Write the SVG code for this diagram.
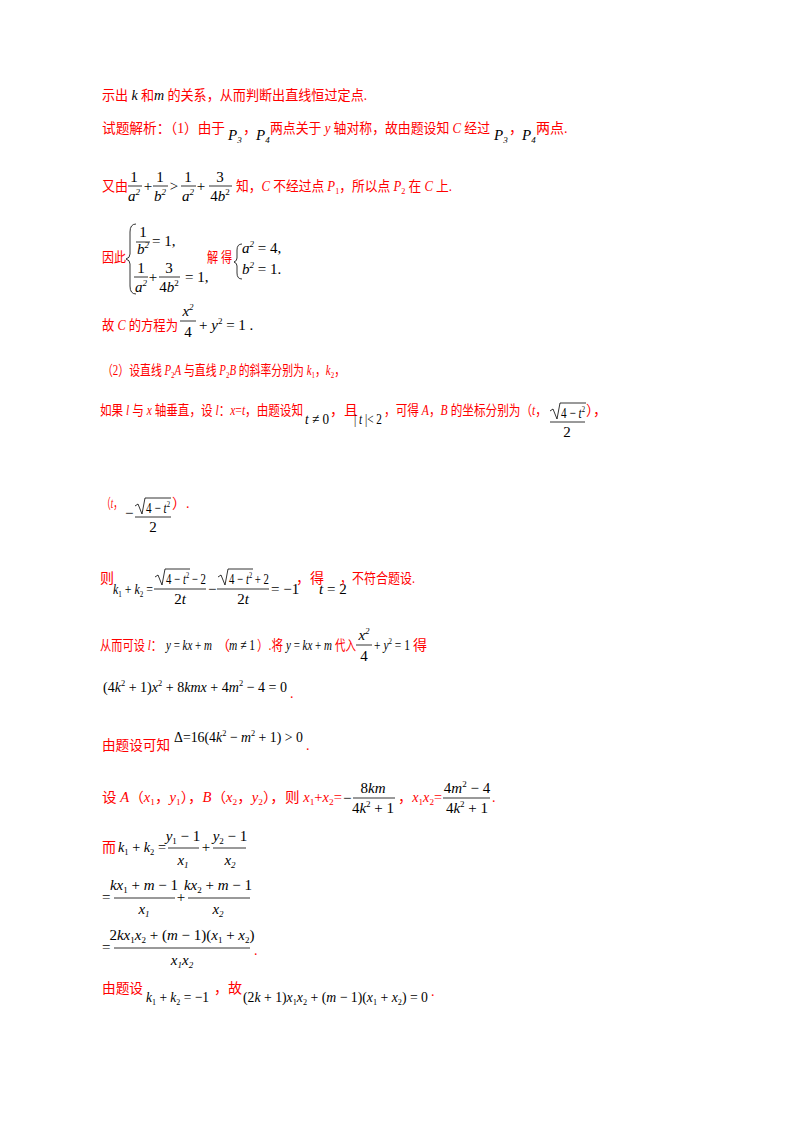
<svg xmlns="http://www.w3.org/2000/svg" width="800" height="1132" viewBox="0 0 800 1132">
<style>
.r{fill:#f00;font-family:"Liberation Serif","Noto Sans CJK SC",serif;font-size:14px}
.m{fill:#000;font-family:"Liberation Serif",serif;font-size:15px}
.i{font-style:italic}
.s{font-size:9px}
.c{text-anchor:middle}
.b{stroke:#000;stroke-width:0.8;fill:none}
</style>
<rect width="800" height="1132" fill="#fff"/>
<g id="l1">
<text class="r" x="102" y="100" textLength="265" lengthAdjust="spacingAndGlyphs">示出 <tspan class="m i" font-size="17">k</tspan> 和<tspan class="m i" font-size="17">m</tspan> 的关系，从而判断出直线恒过定点.</text>
</g>
<g id="l2">
<text class="r" x="102" y="133" textLength="123" lengthAdjust="spacingAndGlyphs">试题解析：（1）由于</text>
<text class="m i" x="228" y="140">P<tspan class="s" dy="3">3</tspan></text>
<text class="r" x="243" y="133">，</text>
<text class="m i" x="256" y="140">P<tspan class="s" dy="3">4</tspan></text>
<text class="r" x="270" y="133" textLength="220" lengthAdjust="spacingAndGlyphs">两点关于 <tspan class="i">y</tspan> 轴对称，故由题设知 <tspan class="i">C</tspan> 经过</text>
<text class="m i" x="494" y="140">P<tspan class="s" dy="3">3</tspan></text>
<text class="r" x="509" y="133">，</text>
<text class="m i" x="522" y="140">P<tspan class="s" dy="3">4</tspan></text>
<text class="r" x="536" y="133">两点.</text>
</g>
<g id="l3">
<text class="r" x="102" y="191" textLength="26" lengthAdjust="spacingAndGlyphs">又由</text>
<g class="m">
<text class="c" x="134" y="182">1</text><text class="c i" x="134" y="201">a<tspan class="s" dy="-6">2</tspan></text>
<text class="c" x="148" y="191">+</text>
<text class="c" x="160" y="182">1</text><text class="c i" x="160" y="201">b<tspan class="s" dy="-6">2</tspan></text>
<text class="c" x="174" y="191">&gt;</text>
<text class="c" x="188" y="182">1</text><text class="c i" x="188" y="201">a<tspan class="s" dy="-6">2</tspan></text>
<text class="c" x="201" y="191">+</text>
<text class="c" x="220" y="182">3</text><text class="c" x="220" y="201">4<tspan class="i">b</tspan><tspan class="s" dy="-6">2</tspan></text>
</g>
<path class="b" d="M128 186H142M153 186H168M181 186H196M209 186H232"/>
<text class="r" x="236" y="191" textLength="216" lengthAdjust="spacingAndGlyphs">知，<tspan class="i">C</tspan> 不经过点 <tspan class="i">P</tspan><tspan class="s" dy="3">1</tspan><tspan dy="-3">，所以点 </tspan><tspan class="i">P</tspan><tspan class="s" dy="3">2</tspan><tspan dy="-3"> 在 </tspan><tspan class="i">C</tspan> 上.</text>
</g>
<g id="l4">
<text class="r" x="102" y="262" textLength="24" lengthAdjust="spacingAndGlyphs">因此</text>
<path class="b" d="M136 224Q130 224 130 232V254Q130 258 126 259Q130 260 130 264V286Q130 294 136 294"/>
<g class="m">
<text class="c" x="143" y="237">1</text><text class="c i" x="143" y="254">b<tspan class="s" dy="-6">2</tspan></text>
<text x="152" y="246">= 1,</text>
<text class="c" x="141" y="273">1</text><text class="c i" x="141" y="292">a<tspan class="s" dy="-6">2</tspan></text>
<text class="c" x="153" y="282">+</text>
<text class="c" x="169" y="273">3</text><text class="c" x="169" y="292">4<tspan class="i">b</tspan><tspan class="s" dy="-6">2</tspan></text>
<text x="185" y="282">= 1,</text>
</g>
<path class="b" d="M136 242H150M134 277H148M159 277H180"/>
<text class="r" x="207" y="262" textLength="25" lengthAdjust="spacingAndGlyphs">解 得</text>
<path class="b" d="M242 244Q237 244 237 250V258Q237 261 234 262Q237 263 237 266V273Q237 279 242 279"/>
<g class="m">
<text class="i" x="242" y="253">a<tspan class="s" dy="-6">2</tspan><tspan font-style="normal" dy="6"> = 4,</tspan></text>
<text class="i" x="242" y="274">b<tspan class="s" dy="-6">2</tspan><tspan font-style="normal" dy="6"> = 1.</tspan></text>
</g>
</g>
<g id="l5">
<text class="r" x="102" y="330" textLength="76" lengthAdjust="spacingAndGlyphs">故 <tspan class="i">C</tspan> 的方程为</text>
<g class="m">
<text class="c i" x="188" y="316">x<tspan class="s" dy="-6">2</tspan></text>
<text class="c" x="188" y="337">4</text>
<text x="199" y="330">+ <tspan class="i">y</tspan><tspan class="s" dy="-6">2</tspan><tspan dy="6"> = 1 .</tspan></text>
</g>
<path class="b" d="M180 321H196"/>
</g>
<g id="l6">
<text class="r" x="102" y="375" textLength="243" lengthAdjust="spacingAndGlyphs">（2）设直线 <tspan class="i">P</tspan><tspan class="s" dy="3">2</tspan><tspan class="i" dy="-3">A</tspan> 与直线 <tspan class="i">P</tspan><tspan class="s" dy="3">2</tspan><tspan class="i" dy="-3">B</tspan> 的斜率分别为 <tspan class="i">k</tspan><tspan class="s" dy="3">1</tspan><tspan dy="-3">，</tspan><tspan class="i">k</tspan><tspan class="s" dy="3">2</tspan><tspan dy="-3">，</tspan></text>
</g>
<g id="l7">
<text class="r" x="100" y="415" textLength="203" lengthAdjust="spacingAndGlyphs">如果 <tspan class="i">l</tspan> 与 <tspan class="i">x</tspan> 轴垂直，设 <tspan class="i">l</tspan>：<tspan class="i">x</tspan>=<tspan class="i">t</tspan>，由题设知</text>
<text class="m" x="305" y="424" textLength="24" lengthAdjust="spacingAndGlyphs"><tspan class="i">t</tspan> ≠ 0</text>
<text class="r" x="330" y="415">，且</text>
<text class="m" x="354" y="424" textLength="28" lengthAdjust="spacingAndGlyphs">| <tspan class="i">t</tspan> |&lt; 2</text>
<text class="r" x="384" y="415" textLength="163" lengthAdjust="spacingAndGlyphs">，可得 <tspan class="i">A</tspan>，<tspan class="i">B</tspan> 的坐标分别为（<tspan class="i">t</tspan>，</text>
<g class="m">
<text x="561" y="418" textLength="24" lengthAdjust="spacingAndGlyphs">4 − <tspan class="i">t</tspan><tspan class="s" dy="-6">2</tspan></text>
<text class="c" x="567" y="437">2</text>
</g>
<path class="b" d="M550 411L553 409L557 419L560 403H586M550 422H585"/>
<text class="r" x="586" y="415"> ），</text>
</g>
<g id="l8">
<text class="r" x="102" y="508" textLength="20" lengthAdjust="spacingAndGlyphs">（<tspan class="i">t</tspan>，</text>
<g class="m">
<text x="125" y="518">−</text>
<text x="146" y="513" textLength="24" lengthAdjust="spacingAndGlyphs">4 − <tspan class="i">t</tspan><tspan class="s" dy="-6">2</tspan></text>
<text class="c" x="153" y="532">2</text>
</g>
<path class="b" d="M135 506L138 504L142 514L145 498H171M135 517H171"/>
<text class="r" x="172" y="508"> ）.</text>
</g>
<g id="l9">
<text class="r" x="100" y="583">则</text>
<g class="m">
<text x="113" y="594" textLength="40" lengthAdjust="spacingAndGlyphs"><tspan class="i">k</tspan><tspan class="s" dy="3">1</tspan><tspan dy="-3"> + </tspan><tspan class="i">k</tspan><tspan class="s" dy="3">2</tspan><tspan dy="-3"> =</tspan></text>
<text x="166" y="584" textLength="40" lengthAdjust="spacingAndGlyphs">4 − <tspan class="i">t</tspan><tspan class="s" dy="-6">2</tspan><tspan dy="6"> − 2</tspan></text>
<text class="c" x="180" y="604">2<tspan class="i">t</tspan></text>
<text x="208" y="594">−</text>
<text x="229" y="584" textLength="40" lengthAdjust="spacingAndGlyphs">4 − <tspan class="i">t</tspan><tspan class="s" dy="-6">2</tspan><tspan dy="6"> + 2</tspan></text>
<text class="c" x="243" y="604">2<tspan class="i">t</tspan></text>
<text x="271" y="594">= −1</text>
<text x="319" y="594"><tspan class="i">t</tspan> = 2</text>
</g>
<path class="b" d="M155 577L158 575L162 585L165 569H190M154 589H206M218 577L221 575L225 585L228 569H253M217 589H269"/>
<text class="r" x="296" y="583">，得</text>
<text class="r" x="340" y="583" textLength="75" lengthAdjust="spacingAndGlyphs">，不符合题设.</text>
</g>
<g id="l10">
<text class="r" x="100" y="650" textLength="62" lengthAdjust="spacingAndGlyphs">从而可设 <tspan class="i">l</tspan>：</text>
<text class="m i" x="166" y="650" textLength="46" lengthAdjust="spacingAndGlyphs">y<tspan font-style="normal"> = </tspan>kx<tspan font-style="normal"> + </tspan>m</text>
<text class="r" x="216" y="650">（</text>
<text class="m" x="229" y="650" textLength="26" lengthAdjust="spacingAndGlyphs"><tspan class="i">m</tspan> ≠ 1</text>
<text class="r" x="257" y="650" textLength="26" lengthAdjust="spacingAndGlyphs">）.将</text>
<text class="m i" x="286" y="650" textLength="46" lengthAdjust="spacingAndGlyphs">y<tspan font-style="normal"> = </tspan>kx<tspan font-style="normal"> + </tspan>m</text>
<text class="r" x="335" y="650" textLength="21" lengthAdjust="spacingAndGlyphs">代入</text>
<g class="m">
<text class="c i" x="364" y="640">x<tspan class="s" dy="-6">2</tspan></text>
<text class="c" x="364" y="661">4</text>
<text x="374" y="650" textLength="36" lengthAdjust="spacingAndGlyphs">+ <tspan class="i">y</tspan><tspan class="s" dy="-6">2</tspan><tspan dy="6"> = 1</tspan></text>
</g>
<path class="b" d="M356 645H372"/>
<text class="r" x="413" y="650">得</text>
</g>
<g id="l11">
<text class="m" x="103" y="692" textLength="184" lengthAdjust="spacingAndGlyphs">(4<tspan class="i">k</tspan><tspan class="s" dy="-6">2</tspan><tspan dy="6"> + 1)</tspan><tspan class="i">x</tspan><tspan class="s" dy="-6">2</tspan><tspan dy="6"> + 8</tspan><tspan class="i">kmx</tspan> + 4<tspan class="i">m</tspan><tspan class="s" dy="-6">2</tspan><tspan dy="6"> − 4 = 0</tspan></text>
<text class="r" x="290" y="698">.</text>
</g>
<g id="l12">
<text class="r" x="102" y="750" textLength="68" lengthAdjust="spacingAndGlyphs">由题设可知</text>
<text class="m" x="174" y="742" textLength="129" lengthAdjust="spacingAndGlyphs">Δ=16(4<tspan class="i">k</tspan><tspan class="s" dy="-6">2</tspan><tspan dy="6"> − </tspan><tspan class="i">m</tspan><tspan class="s" dy="-6">2</tspan><tspan dy="6"> + 1) &gt; 0</tspan></text>
<text class="r" x="306" y="750">.</text>
</g>
<g id="l13">
<text class="r" x="102" y="802" textLength="240" lengthAdjust="spacingAndGlyphs">设 <tspan class="i">A</tspan>（<tspan class="i">x</tspan><tspan class="s" dy="3">1</tspan><tspan dy="-3">，</tspan><tspan class="i">y</tspan><tspan class="s" dy="3">1</tspan><tspan dy="-3">），</tspan><tspan class="i">B</tspan>（<tspan class="i">x</tspan><tspan class="s" dy="3">2</tspan><tspan dy="-3">，</tspan><tspan class="i">y</tspan><tspan class="s" dy="3">2</tspan><tspan dy="-3">），则 </tspan><tspan class="i">x</tspan><tspan class="s" dy="3">1</tspan><tspan dy="-3">+</tspan><tspan class="i">x</tspan><tspan class="s" dy="3">2</tspan><tspan dy="-3">=</tspan></text>
<g class="m">
<text x="343" y="803">−</text>
<text class="c" x="373" y="793">8<tspan class="i">km</tspan></text>
<text class="c" x="373" y="813">4<tspan class="i">k</tspan><tspan class="s" dy="-6">2</tspan><tspan dy="6"> + 1</tspan></text>
<text class="c" x="467" y="793">4<tspan class="i">m</tspan><tspan class="s" dy="-6">2</tspan><tspan dy="6"> − 4</tspan></text>
<text class="c" x="467" y="813">4<tspan class="i">k</tspan><tspan class="s" dy="-6">2</tspan><tspan dy="6"> + 1</tspan></text>
</g>
<path class="b" d="M353 798H395M443 798H490"/>
<text class="r" x="398" y="802" textLength="44" lengthAdjust="spacingAndGlyphs">，<tspan class="i">x</tspan><tspan class="s" dy="3">1</tspan><tspan class="i" dy="-3">x</tspan><tspan class="s" dy="3">2</tspan><tspan dy="-3">=</tspan></text>
<text class="r" x="492" y="802">.</text>
</g>
<g id="l14">
<text class="r" x="102" y="852">而</text>
<g class="m">
<text x="118" y="852" textLength="48" lengthAdjust="spacingAndGlyphs"><tspan class="i">k</tspan><tspan class="s" dy="3">1</tspan><tspan dy="-3"> + </tspan><tspan class="i">k</tspan><tspan class="s" dy="3">2</tspan><tspan dy="-3"> =</tspan></text>
<text class="c" x="183" y="841"><tspan class="i">y</tspan><tspan class="s" dy="3">1</tspan><tspan dy="-3"> − 1</tspan></text>
<text class="c i" x="183" y="865">x<tspan class="s" dy="3">1</tspan></text>
<text class="c" x="206" y="852">+</text>
<text class="c" x="230" y="841"><tspan class="i">y</tspan><tspan class="s" dy="3">2</tspan><tspan dy="-3"> − 1</tspan></text>
<text class="c i" x="230" y="865">x<tspan class="s" dy="3">2</tspan></text>
</g>
<path class="b" d="M168 848H199M213 848H246"/>
</g>
<g id="l15">
<g class="m">
<text x="102" y="902">=</text>
<text class="c" x="144" y="890"><tspan class="i">kx</tspan><tspan class="s" dy="3">1</tspan><tspan dy="-3"> + </tspan><tspan class="i">m</tspan> − 1</text>
<text class="c i" x="144" y="914">x<tspan class="s" dy="3">1</tspan></text>
<text class="c" x="181" y="902">+</text>
<text class="c" x="218" y="890"><tspan class="i">kx</tspan><tspan class="s" dy="3">2</tspan><tspan dy="-3"> + </tspan><tspan class="i">m</tspan> − 1</text>
<text class="c i" x="218" y="914">x<tspan class="s" dy="3">2</tspan></text>
</g>
<path class="b" d="M114 898H175M188 898H250"/>
</g>
<g id="l16">
<g class="m">
<text x="102" y="952">=</text>
<text class="c" x="182" y="940">2<tspan class="i">kx</tspan><tspan class="s" dy="3">1</tspan><tspan class="i" dy="-3">x</tspan><tspan class="s" dy="3">2</tspan><tspan dy="-3"> + (</tspan><tspan class="i">m</tspan> − 1)(<tspan class="i">x</tspan><tspan class="s" dy="3">1</tspan><tspan dy="-3"> + </tspan><tspan class="i">x</tspan><tspan class="s" dy="3">2</tspan><tspan dy="-3">)</tspan></text>
<text class="c i" x="182" y="965">x<tspan class="s" dy="3">1</tspan><tspan dy="-3">x</tspan><tspan class="s" dy="3">2</tspan></text>
</g>
<path class="b" d="M114 948H250"/>
<text class="r" x="254" y="955">.</text>
</g>
<g id="l17">
<text class="r" x="102" y="993" textLength="41" lengthAdjust="spacingAndGlyphs">由题设</text>
<text class="m" x="146" y="1002" textLength="63" lengthAdjust="spacingAndGlyphs"><tspan class="i">k</tspan><tspan class="s" dy="3">1</tspan><tspan dy="-3"> + </tspan><tspan class="i">k</tspan><tspan class="s" dy="3">2</tspan><tspan dy="-3"> = −1</tspan></text>
<text class="r" x="214" y="993">，故</text>
<text class="m" x="243" y="1002" textLength="185" lengthAdjust="spacingAndGlyphs">(2<tspan class="i">k</tspan> + 1)<tspan class="i">x</tspan><tspan class="s" dy="3">1</tspan><tspan class="i" dy="-3">x</tspan><tspan class="s" dy="3">2</tspan><tspan dy="-3"> + (</tspan><tspan class="i">m</tspan> − 1)(<tspan class="i">x</tspan><tspan class="s" dy="3">1</tspan><tspan dy="-3"> + </tspan><tspan class="i">x</tspan><tspan class="s" dy="3">2</tspan><tspan dy="-3">) = 0</tspan></text>
<text class="r" x="431" y="996">.</text>
</g>
</svg>
